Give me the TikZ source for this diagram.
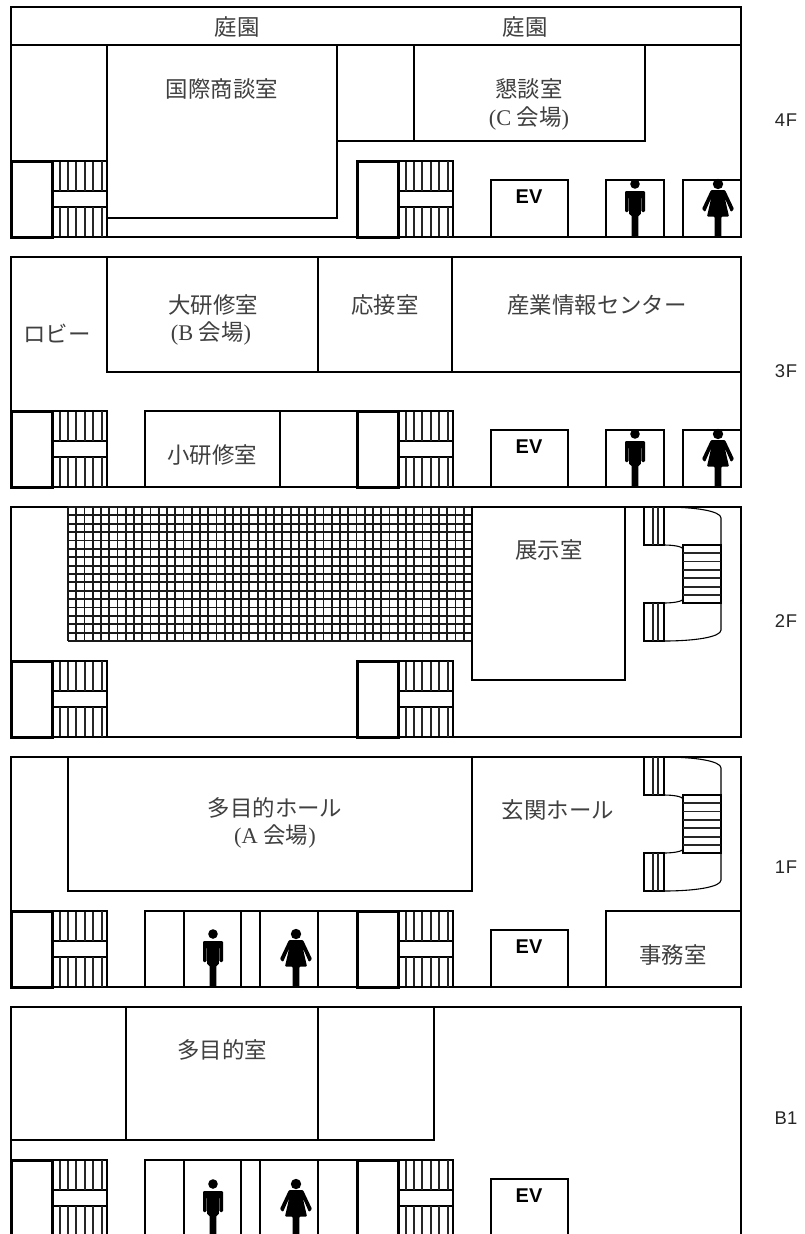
\documentclass[tikz,border=0pt]{standalone}
\usepackage{fontspec}
\setmainfont{Liberation Serif}
\newfontfamily\cjk{Noto Sans CJK JP}
\newfontfamily\lab{Liberation Sans}
\tikzset{
  wall/.style={draw=black,line width=1.1bp},
  heavywall/.style={draw=black,line width=3bp},
  tread/.style={draw=black!85,line width=1.1bp},
  gridline/.style={draw=black!90,line width=1.8bp},
  txt/.style={inner sep=0pt,font=\fontsize{22.5}{26}\selectfont\cjk,text=black!75},
  lat/.style={inner sep=0pt,font=\fontsize{22.5}{26}\selectfont,text=black!75},
  floorlab/.style={inner sep=0pt,font=\fontsize{18.5}{22}\selectfont\lab,text=black!85},
  evlab/.style={inner sep=0pt,font=\fontsize{20}{24}\selectfont\lab\bfseries,text=black},
}
\newcommand{\mystair}[2]{% x, y of top-left
  \begin{scope}[shift={(#1,#2)}]
    \draw[wall] (41,0) rectangle (96,76);
    \draw[wall] (41,30) -- (96,30) (41,46) -- (96,46);
    \foreach \vx in {49,57,65,74,82,91}{
      \draw[tread] (\vx,0) -- (\vx,30) (\vx,46) -- (\vx,76);
    }
    \draw[wall] (-1,0) -- (83,0) (-1,76) -- (83,76);
    \draw[heavywall] (0,0) rectangle (41,76);
  \end{scope}}
\newcommand{\myman}[2]{% centre x, floor y
  \begin{scope}[shift={(#1,#2)}]
    \fill (0,-53) circle (4.8);
    \fill[rounded corners=1.2] (-10,-46) -- (10,-46) -- (10,-25) -- (6.4,-25) -- (6.4,-40) -- (5.8,-40) -- (5.8,-22) -- (3.3,-22) -- (3.3,0) -- (-3.3,0) -- (-3.3,-22) -- (-5.8,-22) -- (-5.8,-40) -- (-6.4,-40) -- (-6.4,-25) -- (-10,-25) -- cycle;
  \end{scope}}
\newcommand{\mywoman}[2]{%
  \begin{scope}[shift={(#1,#2)}]
    \fill (0,-53) circle (5.2);
    \fill[rounded corners=1] (-7,-47) -- (7,-47) -- (16,-28) -- (13,-25) -- (6.8,-39) -- (11,-20.5) -- (3.3,-20.5) -- (3.3,0) -- (-3.3,0) -- (-3.3,-20.5) -- (-11,-20.5) -- (-6.8,-39) -- (-13,-25) -- (-16,-28) -- cycle;
  \end{scope}}
\newcommand{\mycurve}[1]{%
  \begin{scope}[shift={(0,#1)}]
    \draw[wall] (644,507) rectangle (664,545);
    \draw[wall] (644,603) rectangle (664,641);
    \draw[tread] (653,507) -- (653,545) (658,507) -- (658,545) (653,603) -- (653,641) (658,603) -- (658,641);
    \draw[wall] (683,545) rectangle (721,603);
    \foreach \hy in {553,561.5,570,578,587,595}{\draw[tread] (683,\hy) -- (721,\hy);}
    \draw[wall] (664,507) .. controls (695,507) and (721,511) .. (721,518) -- (721,630) .. controls (721,637) and (695,641) .. (664,641);
    \draw[wall] (664,545) .. controls (675,545) and (683,547) .. (683,549);
    \draw[wall] (664,603) .. controls (675,603) and (683,601) .. (683,599);
  \end{scope}}
\begin{document}
\begin{tikzpicture}[x=1bp,y=-1bp]
\useasboundingbox (0,0) rectangle (805,1234);
\fill[white] (0,0) rectangle (805,1234);
\clip (0,0) rectangle (805,1234);
% ---------- 4F
\draw[wall] (11,7) rectangle (741,237);
\draw[wall] (11,45) -- (741,45);
\draw[wall] (107,45) rectangle (337,218);
\draw[wall] (337,141) -- (645,141) -- (645,45) (414,45) -- (414,141);
\mystair{11}{161}\mystair{357}{161}
\draw[wall] (491,180) rectangle (568,237);
\draw[wall] (606,180) rectangle (664,237);
\draw[wall] (683,180) rectangle (741,237);
\myman{635}{237}\mywoman{718}{237}
\node[txt] (garden1) at (237,27) {庭園};
\node[txt] (garden2) at (525,27) {庭園};
\node[txt] (kokusai) at (222,89) {国際商談室};
\node[txt] (kondan) at (529,89) {懇談室};
\node[lat] (kondanC) at (529,118) {(C {\cjk 会場})};
\node[evlab] (ev4) at (529,197) {EV};
\node[floorlab] (f4) at (786,120) {4\kern1bp F};
% ---------- 3F
\draw[wall] (11,257) rectangle (741,487);
\draw[wall] (107,257) rectangle (741,372);
\draw[wall] (318,257) -- (318,372) (452,257) -- (452,372);
\draw[wall] (145,411) rectangle (357,487);
\draw[wall] (280,411) -- (280,487);
\mystair{11}{411}\mystair{357}{411}
\draw[wall] (491,430) rectangle (568,487);
\draw[wall] (606,430) rectangle (664,487);
\draw[wall] (683,430) rectangle (741,487);
\myman{635}{487}\mywoman{718}{487}
\node[txt] (lobby) at (57,333) {ロビー};
\node[txt] (daiken) at (213,305) {大研修室};
\node[lat] (daikenB) at (211,333) {(B {\cjk 会場})};
\node[txt] (osetsu) at (385,305) {応接室};
\node[txt] (sangyo) at (597,305) {産業情報センター};
\node[txt] (shoken) at (212,455) {小研修室};
\node[evlab] (ev3) at (529,447) {EV};
\node[floorlab] (f3) at (786,371) {3\kern1bp F};
% ---------- 2F
\draw[wall] (11,507) rectangle (741,737);
\foreach \gx in {0,...,49}{\draw[gridline] ({68+\gx*8.245},507) -- ({68+\gx*8.245},641);}
\foreach \gy in {0,...,16}{\draw[gridline] (68,{507+\gy*8.375}) -- (472,{507+\gy*8.375});}
\draw[wall] (472,507) rectangle (625,680);
\mycurve{0}
\mystair{11}{661}\mystair{357}{661}
\node[txt] (tenji) at (549,550) {展示室};
\node[floorlab] (f2) at (786,621) {2\kern1bp F};
% ---------- 1F
\draw[wall] (11,757) rectangle (741,987);
\draw[wall] (68,757) rectangle (472,891);
\mycurve{250}
\draw[wall] (145,911) rectangle (357,987);
\draw[wall] (184,911) -- (184,987) (241,911) -- (241,987) (260,911) -- (260,987) (318,911) -- (318,987);
\mystair{11}{911}\mystair{357}{911}
\draw[wall] (491,930) rectangle (568,987);
\draw[wall] (606,911) rectangle (741,987);
\myman{213}{987}\mywoman{296}{987}
\node[txt] (tamoku) at (275,808) {多目的ホール};
\node[lat] (tamokuA) at (275,836) {(A {\cjk 会場})};
\node[txt] (genkan) at (558,810) {玄関ホール};
\node[txt] (jimu) at (673,955) {事務室};
\node[evlab] (ev1) at (529,947) {EV};
\node[floorlab] (f1) at (786,867) {1\kern1bp F};
% ---------- B1
\draw[wall] (11,1007) rectangle (741,1245);
\draw[wall] (11,1140) -- (434,1140) -- (434,1007);
\draw[wall] (126,1007) -- (126,1140) (318,1007) -- (318,1140);
\draw[wall] (145,1160) rectangle (357,1245);
\draw[wall] (184,1160) -- (184,1245) (241,1160) -- (241,1245) (260,1160) -- (260,1245) (318,1160) -- (318,1245);
\mystair{11}{1160}\mystair{357}{1160}
\draw[wall] (491,1179) rectangle (568,1245);
\myman{213}{1237}
\mywoman{296}{1237}
\node[txt] (tamokushitsu) at (222,1050) {多目的室};
\node[evlab] (evb) at (529,1196) {EV};
\node[floorlab] (fb) at (786,1118) {B1};
\end{tikzpicture}
\end{document}
